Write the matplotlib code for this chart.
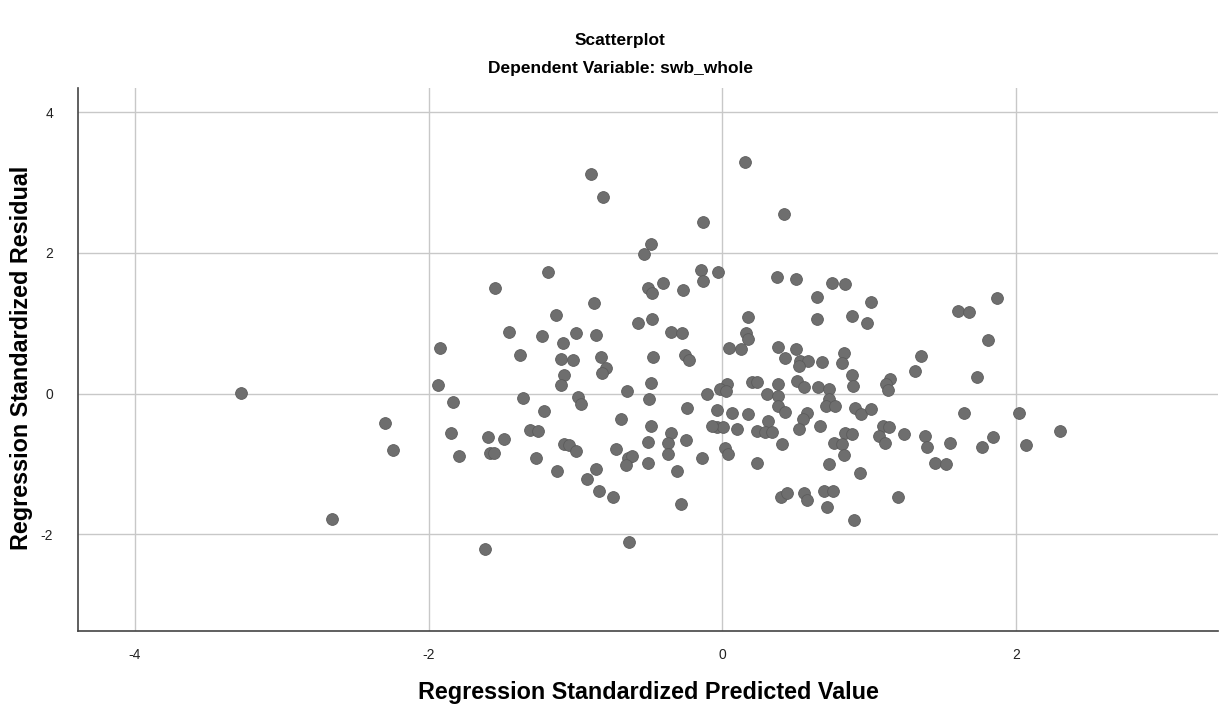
import matplotlib
matplotlib.use("Agg")
import matplotlib.pyplot as plt

plt.rcParams['font.family'] = ['Liberation Sans', 'DejaVu Sans']
plt.rcParams['axes.unicode_minus'] = False

title_main = "Scatterplot"
title_sub = "Dependent Variable: swb_whole"
x_label = "Regression Standardized Predicted Value"
y_label = "Regression Standardized Residual"
x_ticks = [-4, -2, 0, 2]
y_ticks = [-2, 0, 2, 4]

pred = [
    -0.894, -0.814, 0.155, 0.423, -0.131, -0.485, -0.533, -1.185, -1.546, -0.146,
    -0.031, -0.129, 0.371, 0.503, 0.750, 0.837, -0.405, -0.265, -0.505, -0.480,
    -3.280, -2.297, -2.245, -2.660, -1.922, -1.936, -0.871, -1.130, -1.450, -1.225,
    -0.998, -0.860, -1.084, -0.574, -1.377, -1.096, -1.018, -0.824, -0.792, -0.819,
    -1.076, -1.098, -1.836, -1.359, -0.984, -0.964, -0.651, -1.212, -0.691, -1.309,
    -1.255, -1.847, -0.480, -0.351, -0.272, 0.178, 0.162, 0.178, 0.644, 0.644,
    0.882, -0.473, -0.253, -0.224, 0.046, 0.126, 0.378, 0.501, 0.428, 0.530,
    0.587, 0.525, 0.678, 0.830, 0.814, 0.882, 0.889, -0.485, 0.201, 0.239,
    0.378, 0.507, 0.559, 0.655, 0.730, 0.035, -0.015, 0.026, -0.101, 0.303,
    0.378, -0.497, -0.242, -0.037, 0.065, 0.178, 0.378, 0.428, 0.728, 0.707,
    0.768, 0.905, 0.576, 0.550, 0.310, 1.012, 0.988, 1.604, 1.683, 1.870,
    1.813, 1.354, 1.313, 1.143, 1.116, 1.131, 1.734, 0.943, 1.014, 1.647,
    2.024, 1.093, 1.138, 2.301, -0.485, -0.351, -0.503, -0.367, -0.247, -0.371,
    -0.503, -0.306, -0.283, -0.140, -0.037, 0.007, -0.072, 0.103, 0.019, 0.042,
    0.239, 0.292, 0.337, 0.405, 0.239, 0.525, 0.666, 0.837, 0.882, 0.764,
    0.814, 0.832, 0.728, 0.939, 0.401, 0.439, 0.559, 0.576, 0.696, 0.757,
    0.712, 0.898, 1.068, 1.109, 1.240, 1.381, 1.393, 1.552, 1.768, 1.847,
    1.450, 1.522, 1.196, 2.069, -1.791, -1.593, -1.484, -1.582, -1.554, -1.270,
    -1.076, -1.042, -0.998, -1.127, -0.923, -0.862, -0.837, -0.746, -0.723, -0.640,
    -0.616, -0.655, -1.614, -0.633,
]

resid = [
    3.118, 2.799, 3.289, 2.553, 2.440, 2.127, 1.984, 1.728, 1.508, 1.757,
    1.733, 1.600, 1.653, 1.624, 1.576, 1.558, 1.572, 1.479, 1.501, 1.425,
    0.011, -0.420, -0.804, -1.785, 0.647, 0.121, 1.283, 1.112, 0.871, 0.822,
    0.856, 0.828, 0.723, 1.003, 0.548, 0.495, 0.481, 0.519, 0.358, 0.287,
    0.263, 0.117, -0.125, -0.060, -0.054, -0.145, 0.031, -0.245, -0.363, -0.519,
    -0.533, -0.562, 1.055, 0.879, 0.865, 1.084, 0.865, 0.771, 1.368, 1.060,
    1.102, 0.523, 0.548, 0.477, 0.651, 0.633, 0.657, 0.633, 0.501, 0.462,
    0.462, 0.391, 0.452, 0.572, 0.430, 0.263, 0.107, 0.145, 0.159, 0.159,
    0.131, 0.182, 0.088, 0.088, 0.064, 0.131, 0.064, 0.036, -0.007, -0.007,
    -0.031, -0.078, -0.202, -0.235, -0.273, -0.292, -0.178, -0.259, -0.078, -0.178,
    -0.178, -0.211, -0.282, -0.363, -0.391, 1.297, 0.999, 1.178, 1.164, 1.354,
    0.761, 0.538, 0.324, 0.206, 0.131, 0.050, 0.239, -0.292, -0.220, -0.273,
    -0.273, -0.469, -0.472, -0.533, -0.462, -0.566, -0.686, -0.708, -0.661, -0.865,
    -0.993, -1.102, -1.572, -0.913, -0.472, -0.472, -0.462, -0.505, -0.780, -0.865,
    -0.533, -0.543, -0.552, -0.718, -0.984, -0.509, -0.458, -0.566, -0.576, -0.708,
    -0.718, -0.875, -1.003, -1.124, -1.477, -1.411, -1.420, -1.515, -1.383, -1.391,
    -1.610, -1.799, -0.605, -0.700, -0.576, -0.600, -0.757, -0.708, -0.757, -0.615,
    -0.984, -1.007, -1.477, -0.737, -0.889, -0.623, -0.647, -0.851, -0.851, -0.922,
    -0.718, -0.733, -0.818, -1.098, -1.216, -1.074, -1.383, -1.477, -0.794, -0.922,
    -0.889, -1.017, -2.216, -2.112,
]

fig = plt.figure(figsize=(12.26, 7.05), dpi=100)
ax = fig.add_axes([78 / 1226, 1 - 631 / 705, (1218 - 78) / 1226, (631 - 88) / 705])

ax.set_xlim(-4.388, 3.377)
ax.set_ylim(-3.378, 4.346)
ax.set_xticks(x_ticks)
ax.set_yticks(y_ticks)
ax.grid(True, color="#c8c8c8", linewidth=1.0)
ax.set_axisbelow(True)

ax.scatter(pred, resid, s=72, color="#6e6e6e", edgecolors="#5c5c5c",
           linewidths=0.6, zorder=3)

for side in ["top", "right"]:
    ax.spines[side].set_visible(False)
for side in ["left", "bottom"]:
    ax.spines[side].set_color("#444444")
    ax.spines[side].set_linewidth(1.2)

ax.tick_params(axis="both", length=0, labelsize=10, colors="#222222")
ax.tick_params(axis="x", pad=12)
ax.tick_params(axis="y", pad=18)

fig.text(648 / 1226, 1 - 692 / 705, x_label, ha="center", va="center",
         fontsize=16.8, fontweight="bold")
fig.text(22 / 1226, 1 - 358 / 705, y_label, ha="center", va="center",
         rotation=90, fontsize=16.8, fontweight="bold")

fig.text(620 / 1226, 1 - 40 / 705, title_main, ha="center", va="center",
         fontsize=12.5, fontweight="bold")
fig.text(620 / 1226, 1 - 68 / 705, title_sub, ha="center", va="center",
         fontsize=12.5, fontweight="bold")

fig.savefig("out.png", dpi=100)
